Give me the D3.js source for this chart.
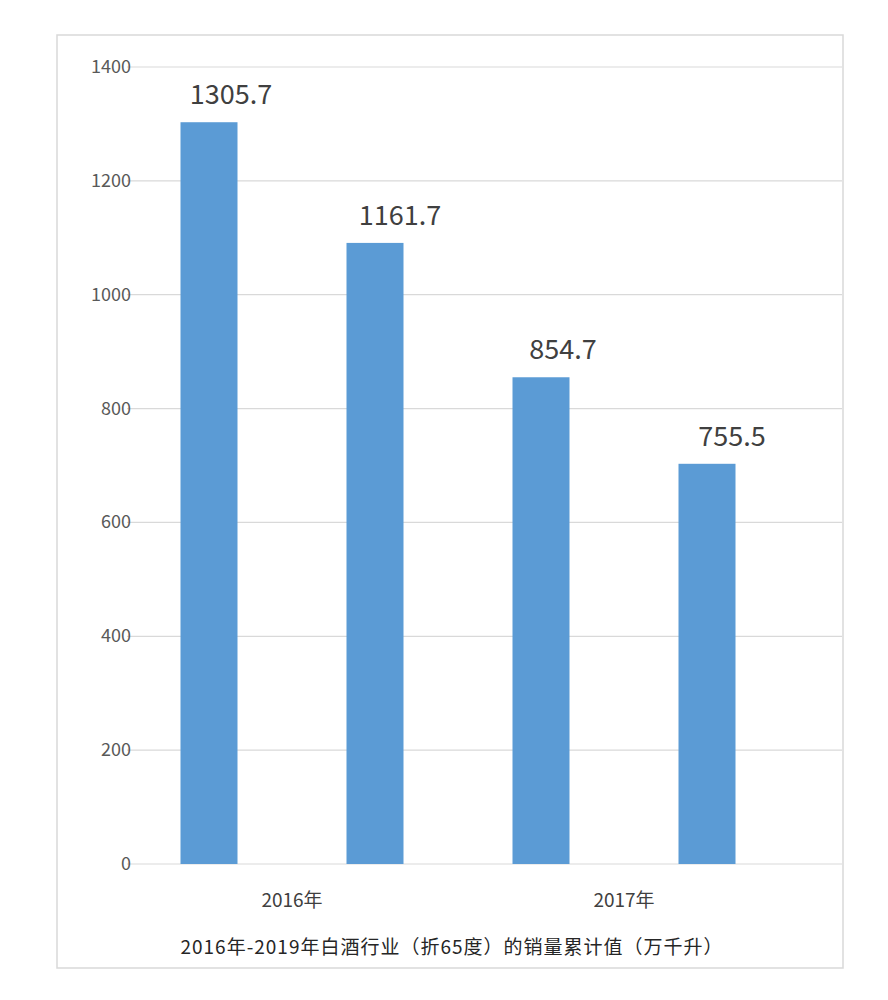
<!DOCTYPE html>
<html><head><meta charset="utf-8">
<script src="https://cdn.jsdelivr.net/npm/d3@7"></script>
<style>body{margin:0;background:#fff;font-family:"Noto Sans CJK SC","Noto Sans",sans-serif}</style>
</head><body>
<script>
// bar heights as drawn, and the labels printed above them
var bars = ["b1", "b2", "b3", "b4"];
var values = [1303, 1091, 855, 703];
var labels = ["1305.7", "1161.7", "854.7", "755.5"];
var groups = ["2016年", "2017年"];
var yTicks = [0, 200, 400, 600, 800, 1000, 1200, 1400];
var title = "2016年-2019年白酒行业（折65度）的销量累计值（万千升）";

var svg = d3.select("body").append("svg").attr("width", 888).attr("height", 1000);

svg.append("rect").attr("x", 57).attr("y", 35).attr("width", 786).attr("height", 933)
    .attr("fill", "#fff").attr("stroke", "#d9d9d9").attr("stroke-width", 1.5);

var y = d3.scaleLinear().domain([0, 1400]).range([864, 67]);
var x = d3.scalePoint().domain(bars).range([209, 707]);
var bw = 57;

svg.selectAll(".grid").data(yTicks).enter().append("line")
    .attr("x1", 127).attr("x2", 842)
    .attr("y1", function(d){return y(d);}).attr("y2", function(d){return y(d);})
    .attr("stroke", "#d9d9d9").attr("stroke-width", 1.2);

svg.selectAll(".yl").data(yTicks).enter().append("text")
    .attr("x", 131).attr("y", function(d){return y(d) + 6;})
    .attr("text-anchor", "end").attr("font-size", 18).attr("fill", "#595959")
    .text(function(d){return d;});

svg.selectAll(".bar").data(values).enter().append("rect")
    .attr("x", function(d, i){return x(bars[i]) - bw / 2;})
    .attr("y", function(d){return y(d);})
    .attr("width", bw)
    .attr("height", function(d){return y(0) - y(d);})
    .attr("fill", "#5b9bd5");

svg.selectAll(".vl").data(values).enter().append("text")
    .attr("x", function(d, i){return x(bars[i]) + (i % 2 ? 25 : 22);})
    .attr("y", function(d){return y(d) - 18;})
    .attr("text-anchor", "middle").attr("font-size", 27).attr("fill", "#404040")
    .text(function(d, i){return labels[i];});

svg.selectAll(".gl").data(groups).enter().append("text")
    .attr("x", function(d, i){return (x(bars[2 * i]) + x(bars[2 * i + 1])) / 2;})
    .attr("y", 907)
    .attr("text-anchor", "middle").attr("font-size", 19).attr("fill", "#404040")
    .text(function(d){return d;});

svg.append("text").attr("x", 452).attr("y", 954).attr("text-anchor", "middle")
    .attr("font-size", 19).attr("fill", "#262626").attr("letter-spacing", 1)
    .text(title);
</script>
</body></html>
